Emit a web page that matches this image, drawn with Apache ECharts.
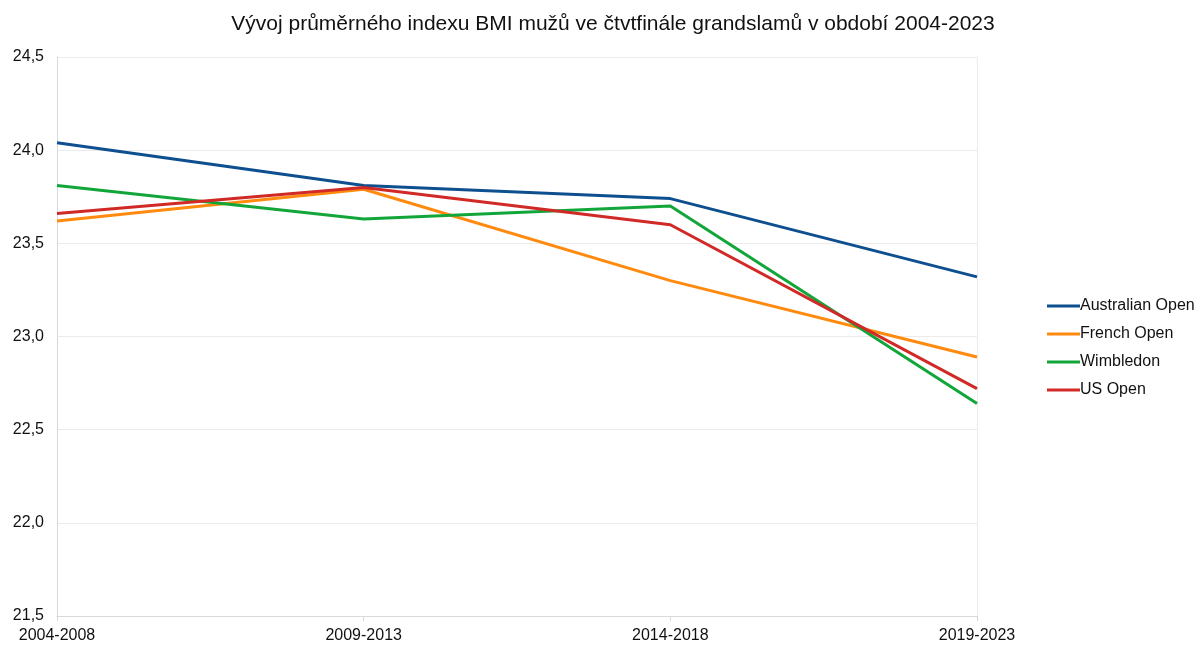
<!DOCTYPE html>
<html><head><meta charset="utf-8">
<script src="https://cdn.jsdelivr.net/npm/echarts@6/dist/echarts.min.js"></script>
<style>html,body{margin:0;padding:0;background:#fff}#c{width:1201px;height:646px}</style>
</head><body><div id="c"></div>
<script>
const categories = ['2004-2008', '2009-2013', '2014-2018', '2019-2023'];
const australianOpen = [24.04, 23.81, 23.74, 23.32];
const frenchOpen = [23.62, 23.79, 23.30, 22.89];
const wimbledon = [23.81, 23.63, 23.70, 22.64];
const usOpen = [23.66, 23.80, 23.60, 22.72];
const seriesNames = ['Australian Open', 'French Open', 'Wimbledon', 'US Open'];
const seriesColors = ['#0e4f8f', '#ff8a0e', '#12a63a', '#d12a26'];
const seriesData = [australianOpen, frenchOpen, wimbledon, usOpen];

const chart = echarts.init(document.getElementById('c'), null, {renderer: 'canvas'});
const font = 'Liberation Sans, Arial, sans-serif';
chart.setOption({
  animation: false,
  backgroundColor: '#fff',
  title: {
    text: 'Vývoj průměrného indexu BMI mužů ve čtvtfinále grandslamů v období 2004-2023',
    left: 608, top: 9, textAlign: 'center',
    textStyle: {fontFamily: font, fontSize: 21, fontWeight: 'normal', color: '#111'}
  },
  legend: {
    orient: 'vertical', left: 1042, top: 293,
    itemWidth: 33, itemHeight: 3, itemGap: 12, icon: 'rect',
    textStyle: {fontFamily: font, fontSize: 16, color: '#111', padding: [0,0,0,-5]},
    data: seriesNames
  },
  grid: {left: 57, right: 224, top: 57, bottom: 30, containLabel: false},
  xAxis: {
    type: 'category', data: categories, boundaryGap: false,
    axisLine: {show: true, lineStyle: {color: '#d9d9d9'}},
    axisTick: {show: true, length: 5, lineStyle: {color: '#d9d9d9'}},
    axisLabel: {fontFamily: font, fontSize: 16, color: '#111', margin: 12},
    splitLine: {show: false}
  },
  yAxis: [{
    type: 'value', min: 21.5, max: 24.5, interval: 0.5,
    axisLine: {show: true, lineStyle: {color: '#d9d9d9'}},
    axisTick: {show: false},
    axisLabel: {fontFamily: font, fontSize: 16, color: '#111', margin: 13,
      formatter: v => v.toFixed(1).replace('.', ',')},
    splitLine: {show: true, lineStyle: {color: '#ebebeb'}}
  }, {
    type: 'value', min: 21.5, max: 24.5, interval: 0.5, position: 'right',
    axisLine: {show: true, lineStyle: {color: '#ebebeb'}},
    axisTick: {show: false}, axisLabel: {show: false}, splitLine: {show: false}
  }],
  series: seriesNames.map((n, i) => ({
    name: n, type: 'line', data: seriesData[i], symbol: 'none',
    lineStyle: {width: 3, color: seriesColors[i]}, itemStyle: {color: seriesColors[i]}
  }))
});
</script></body></html>
